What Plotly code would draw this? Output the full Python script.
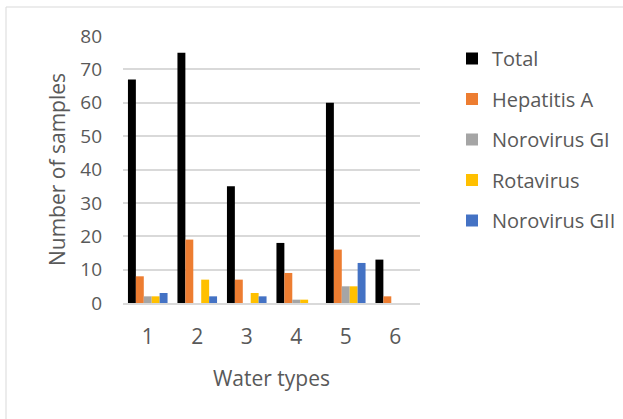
import plotly.graph_objects as go

categories = ["1", "2", "3", "4", "5", "6"]
series_names = ["Total", "Hepatitis A", "Norovirus GI", "Rotavirus", "Norovirus GII"]
total = [67, 75, 35, 18, 60, 13]
hepatitis_a = [8, 19, 7, 9, 16, 2]
norovirus_gi = [2, 0, 0, 1, 5, 0]
rotavirus = [2, 7, 3, 1, 5, 0]
norovirus_gii = [3, 2, 2, 0, 12, 0]
y_ticks = [0, 10, 20, 30, 40, 50, 60, 70, 80]

colors = ["#000000", "#ED7D31", "#A5A5A5", "#FFC000", "#4472C4"]
values = [total, hepatitis_a, norovirus_gi, rotavirus, norovirus_gii]

FONT = "Open Sans, Liberation Sans, sans-serif"
TXT = "#595959"

fig = go.Figure()
for i, (name, vals, c) in enumerate(zip(series_names, values, colors)):
    fig.add_trace(go.Bar(x=categories, y=vals, name=name, marker_color=c,
                         marker_line_width=0, legendgroup=str(i)))

L, R, T, B = 123, 203, 36, 116
W, H = 623, 419
pw, ph = W - L - R, H - T - B

fig.update_layout(
    width=W, height=H,
    margin=dict(l=L, r=R, t=T, b=B),
    paper_bgcolor="white", plot_bgcolor="white",
    barmode="group", bargap=0.2, bargroupgap=0,
    font=dict(family=FONT, color=TXT, size=19),
    legend=dict(xref="container", yref="container",
                x=452 / W, y=1 - 39 / H, xanchor="left", yanchor="top",
                font=dict(size=20, color=TXT), tracegroupgap=11.5, traceorder="grouped",
                itemwidth=30, bgcolor="rgba(0,0,0,0)"),
    xaxis=dict(title=dict(text="Water types", font=dict(size=21, color=TXT), standoff=22),
               showgrid=False, showline=True, linecolor="#d9d9d9", linewidth=1.5,
               ticks="", tickfont=dict(size=21, color=TXT), ticklabelstandoff=14),
    yaxis=dict(title=dict(text="Number of samples", font=dict(size=21, color=TXT), standoff=8),
               range=[0, 80], tickvals=y_ticks, showgrid=True, gridcolor="#d9d9d9",
               gridwidth=1.5, zeroline=False, showline=False, ticks="",
               tickfont=dict(size=19, color=TXT), ticklabelstandoff=20),
    shapes=[dict(type="rect", xref="paper", yref="paper",
                 x0=(6 - L) / pw, x1=(640 - L) / pw,
                 y0=(H - B - 440) / ph, y1=(H - B - 7) / ph,
                 line=dict(color="#d9d9d9", width=1), fillcolor="rgba(0,0,0,0)", layer="below")],
)

fig.write_html("out.html", config={"displayModeBar": False},
               post_script="document.body.style.margin='0px';")
